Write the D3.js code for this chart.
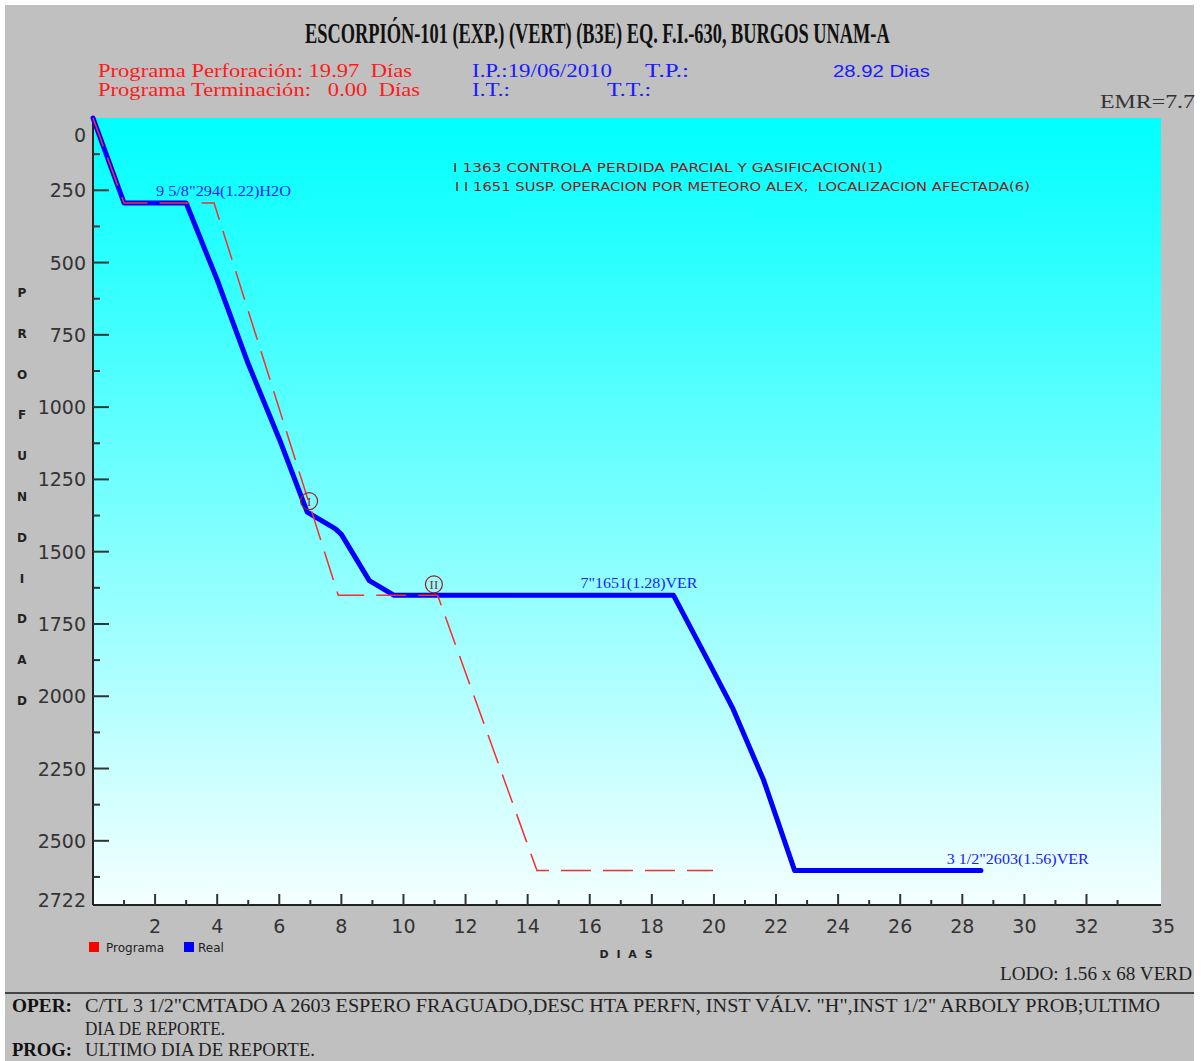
<!DOCTYPE html>
<html><head><meta charset="utf-8">
<script src="https://cdn.jsdelivr.net/npm/d3@7"></script>
<style>body{margin:0;background:#fff;}svg{display:block;}text{white-space:pre;}</style>
</head><body>
<svg id="c" width="1204" height="1061"></svg>
<script>
// ---- data ----
const realDays   = [0, 1.0, 3.0, 4.0, 5.0, 6.0, 6.9, 7.8, 8.0, 8.9, 9.7, 18.7, 19.8, 20.6, 21.6, 22.6, 28.6];
const realDepth  = [0, 294, 294, 560, 850, 1110, 1363, 1420, 1440, 1600, 1651, 1651, 1875, 2040, 2290, 2603, 2603];
const progDays   = [0, 1.0, 3.9, 7.9, 11.1, 14.3, 19.97];
const progDepth  = [0, 294, 294, 1651, 1651, 2603, 2603];
const yTickValues = [0, 250, 500, 750, 1000, 1250, 1500, 1750, 2000, 2250, 2500, 2722];
const xTickValues = [2, 4, 6, 8, 10, 12, 14, 16, 18, 20, 22, 24, 26, 28, 30, 32];
const xEndLabel = "35";
const casingLabels = ["9 5/8\"294(1.22)H2O", "7\"1651(1.28)VER", "3 1/2\"2603(1.56)VER"];
const casingDays   = [2.03, 15.7, 27.5];
const casingDepth  = [294, 1651, 2603];
const eventMarks = ["I", "II"];
const eventDays  = [6.96, 10.98];
const eventDepth = [1363, 1651];
const eventNotes = ["I 1363 CONTROLA PERDIDA PARCIAL Y GASIFICACION(1)",
                    "I I 1651 SUSP. OPERACION POR METEORO ALEX,  LOCALIZACION AFECTADA(6)"];
const yAxisLetters = ["P","R","O","F","U","N","D","I","D","A","D"];
const seriesNames = ["Programa", "Real"];

// ---- layout ----
const svg = d3.select("#c");
const L = 93, R = 1161, T = 118, B = 905;
const x = d3.scaleLinear().domain([0, 34.4]).range([L, R]);
const y = d3.scaleLinear().domain([0, 2722]).range([T, B]);

svg.append("rect").attr("x",5).attr("y",5).attr("width",1189).attr("height",1056).attr("fill","#c0c0c0");

const defs = svg.append("defs");
const g = defs.append("linearGradient").attr("id","bg").attr("x1",0).attr("y1",0).attr("x2",0).attr("y2",1);
g.append("stop").attr("offset","0%").attr("stop-color","#00ffff");
g.append("stop").attr("offset","100%").attr("stop-color","#f4ffff");
svg.append("rect").attr("x",L).attr("y",T).attr("width",R-L).attr("height",B-T).attr("fill","url(#bg)");

function txt(s, x0, y0, opts) {
  const t = svg.append("text").attr("x",x0).attr("y",y0)
    .style("font-family", opts.font || "Liberation Serif").style("font-size", (opts.size||18)+"px")
    .style("font-weight", opts.weight || "normal").attr("fill", opts.fill || "#333").text(s);
  if (opts.len) t.attr("textLength", opts.len).attr("lengthAdjust","spacingAndGlyphs");
  if (opts.anchor) t.attr("text-anchor", opts.anchor);
  if (opts.ls) t.style("letter-spacing", opts.ls);
  return t;
}

// title (condensed via horizontal scale)
const title = svg.append("text").attr("x",0).attr("y",0)
  .style("font-family","Liberation Serif").style("font-size","29px").style("font-weight","bold")
  .attr("fill","#111").text("ESCORPIÓN-101 (EXP.) (VERT) (B3E) EQ. F.I.-630, BURGOS UNAM-A");
const tw = title.node().getComputedTextLength();
title.attr("transform", `translate(305,43) scale(${585/tw},1)`);

const RED = "#ff1a1a", BLUE = "#1a1aff";
txt("Programa Perforación: 19.97  Días", 98, 77, {size:18, fill:RED, len:314});
txt("Programa Terminación:   0.00  Días", 98, 96, {size:18, fill:RED, len:322});
txt("I.P.:19/06/2010", 472, 77, {size:18, fill:BLUE, len:140});
txt("T.P.:", 645, 77, {size:18, fill:BLUE, len:44});
txt("28.92 Dias", 833, 77, {size:17, fill:BLUE, len:97, font:"Liberation Sans"});
txt("I.T.:", 472, 96, {size:18, fill:BLUE, len:38});
txt("T.T.:", 607, 96, {size:18, fill:BLUE, len:44});
txt("EMR=7.7", 1100, 108, {size:18, fill:"#333", len:95});

// axes
const ax = svg.append("g");
ax.append("line").attr("x1",L).attr("x2",L).attr("y1",T).attr("y2",B).attr("stroke","#222").attr("stroke-width",2);
ax.append("line").attr("x1",L).attr("x2",R).attr("y1",B).attr("y2",B).attr("stroke","#222").attr("stroke-width",2);
d3.range(125, 2722, 125).forEach(v => {
  const major = v % 250 === 0;
  ax.append("line").attr("x1",L).attr("x2",L+(major?16:7)).attr("y1",y(v)).attr("y2",y(v))
    .attr("stroke","#333").attr("stroke-width",2);
});
yTickValues.forEach(v => {
  const dy = v === 0 ? 17 : (v === 2722 ? -5 : 0);
  txt(String(v), 86, y(v)+dy+7, {size:19, font:"DejaVu Sans", anchor:"end", fill:"#333"});
});
d3.range(1, 34).forEach(v => {
  const major = v % 2 === 0;
  ax.append("line").attr("x1",x(v)).attr("x2",x(v)).attr("y1",B).attr("y2",B-(major?11:5))
    .attr("stroke","#333").attr("stroke-width",2);
});
xTickValues.forEach(v => txt(String(v), x(v), 933, {size:19, font:"DejaVu Sans", anchor:"middle"}));
txt(xEndLabel, R+2, 933, {size:19, font:"DejaVu Sans", anchor:"middle"});

// axis titles
yAxisLetters.forEach((c,i) => txt(c, 22, 297 + i*40.8, {size:12, font:"DejaVu Sans", weight:"bold", anchor:"middle", fill:"#222"}));
txt("D I A S", 627, 958, {size:11, font:"DejaVu Sans", weight:"bold", anchor:"middle", ls:"2px", fill:"#222"});

// legend
svg.append("rect").attr("x",89).attr("y",942).attr("width",10).attr("height",10).attr("fill","#ff0000");
txt(seriesNames[0], 106, 952, {size:12, font:"DejaVu Sans", fill:"#222"});
svg.append("rect").attr("x",184).attr("y",942).attr("width",10).attr("height",10).attr("fill","#0000ff");
txt(seriesNames[1], 198, 952, {size:12, font:"DejaVu Sans", fill:"#222"});

// event notes
txt(eventNotes[0], 453, 172, {size:12, font:"DejaVu Sans", fill:"#8b1a1a", len:430});
txt(eventNotes[1], 455, 191, {size:12, font:"DejaVu Sans", fill:"#8b1a1a", len:575});

// lines
const line = d3.line().x(d => x(d[0])).y(d => y(d[1]));
const realPts = realDays.map((d,i) => [d, realDepth[i]]);
const progPts = progDays.map((d,i) => [d, progDepth[i]]);
svg.append("path").attr("d", line(realPts)).attr("fill","none").attr("stroke","#0000ff")
  .attr("stroke-width",5).attr("stroke-linejoin","round").attr("stroke-linecap","round");
svg.append("path").attr("d", line(progPts)).attr("fill","none").attr("stroke","#ff2a2a")
  .attr("stroke-width",1.5).attr("stroke-dasharray","30,12");

// casing labels
casingLabels.forEach((s,i) => {
  const w = [135, 117, 142][i];
  txt(s, x(casingDays[i]), y(casingDepth[i]) - 7, {size:15, fill:BLUE, len:w});
});

// event circles
eventMarks.forEach((m,i) => {
  const cx = x(eventDays[i]), cy = y(eventDepth[i]) - 11;
  svg.append("circle").attr("cx",cx).attr("cy",cy).attr("r",8.5).attr("fill","none").attr("stroke","#a02020").attr("stroke-width",1.2);
  txt(m, cx, cy+5, {size:13, fill:"#a02020", anchor:"middle"});
});

// footer
txt("LODO: 1.56 x 68 VERD", 1000, 980, {size:18, fill:"#222", len:192});
svg.append("line").attr("x1",5).attr("x2",1194).attr("y1",993).attr("y2",993).attr("stroke","#444").attr("stroke-width",2);
txt("OPER:", 12, 1012, {size:18, weight:"bold", fill:"#111", len:60});
txt("C/TL 3 1/2\"CMTADO A 2603 ESPERO FRAGUADO,DESC HTA PERFN, INST VÁLV. \"H\",INST 1/2\" ARBOLY PROB;ULTIMO", 85, 1012, {size:18, fill:"#222", len:1075});
txt("DIA DE REPORTE.", 85, 1035, {size:18, fill:"#222", len:140});
txt("PROG:", 12, 1056, {size:18, weight:"bold", fill:"#111", len:60});
txt("ULTIMO DIA DE REPORTE.", 85, 1056, {size:18, fill:"#222", len:230});
</script>
</body></html>
